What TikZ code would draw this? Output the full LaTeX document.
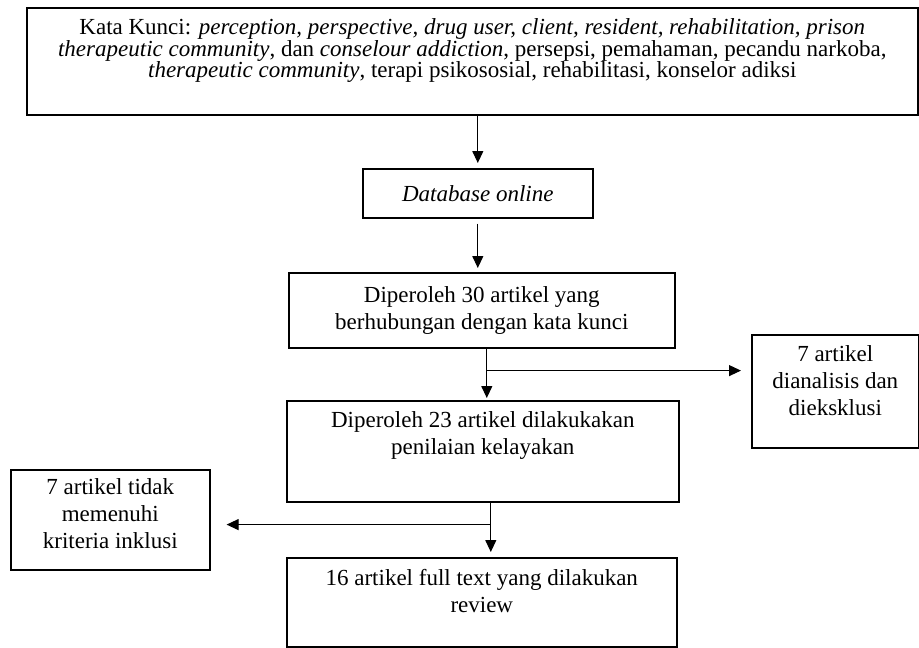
\documentclass[tikz,border=0pt]{standalone}
\usepackage{fontspec}
\setmainfont{Liberation Serif}
\usetikzlibrary{arrows.meta,positioning,calc}
\newcommand{\boxtext}[4]{\parbox[c][#2][t]{#1}{\centering\vspace*{#3}#4}}

\begin{document}
\begin{tikzpicture}[
    x=1pt, y=-1pt,
    box/.style={rectangle, draw, line width=1.6pt, inner sep=0pt, anchor=north west, align=center, font=\fontsize{23}{27}\selectfont},
    arrow/.style={-{Triangle[length=12pt,width=11pt]}, line width=1.1pt}
]
    \useasboundingbox (0,0) rectangle (919,648);

    \node[box, font=\fontsize{23}{21.5}\selectfont] (kata) at (26,7) {\boxtext{891pt}{107pt}{11pt}{Kata Kunci: \textit{perception, perspective, drug user, client, resident, rehabilitation, prison}\\
        \textit{therapeutic community}, dan \textit{conselour addiction}, persepsi, pemahaman, pecandu narkoba,\\
        \textit{therapeutic community}, terapi psikososial, rehabilitasi, konselor adiksi}};

    \node[box, minimum width=230pt, minimum height=49pt] (db) at (362,168) {\textit{Database online}};

    \node[box, minimum width=386pt, minimum height=75pt] (res30) at (288,272) {Diperoleh 30 artikel yang\\berhubungan dengan kata kunci};

    \node[box] (res23) at (286,400) {\boxtext{392pt}{101pt}{11pt}{Diperoleh 23 artikel dilakukakan\\penilaian kelayakan}};
    \node[box] (excl) at (751,334) {\boxtext{167pt}{113pt}{11pt}{7 artikel\\dianalisis dan\\dieksklusi}};
    \node[box] (tidak) at (10,469) {\boxtext{199pt}{100pt}{9pt}{7 artikel tidak\\memenuhi\\kriteria inklusi}};
    \node[box] (res16) at (286,557) {\boxtext{390pt}{89pt}{11pt}{16 artikel full text yang dilakukan\\review}};

    % split points
    \coordinate (split1) at ($([xshift=5pt]res30.south)+(0,22)$);
    \coordinate (split2) at ($([xshift=8pt]res23.south)+(0,22)$);

    \draw[arrow, shorten >=5pt] (kata.south -| db.north) -- (db.north);
    \draw[arrow, shorten <=5pt, shorten >=4pt] (db.south) -- (db.south |- res30.north);
    \draw[arrow, shorten >=2pt] ([xshift=5pt]res30.south) -- ([xshift=5pt]res30.south |- res23.north);
    \draw[arrow, shorten >=10pt] (split1) -- (split1 -| excl.west);
    \draw[arrow, shorten >=5pt] ([xshift=8pt]res23.south) -- ([xshift=8pt]res23.south |- res16.north);
    \draw[arrow, shorten >=16pt] (split2) -- (split2 -| tidak.east);
\end{tikzpicture}
\end{document}
